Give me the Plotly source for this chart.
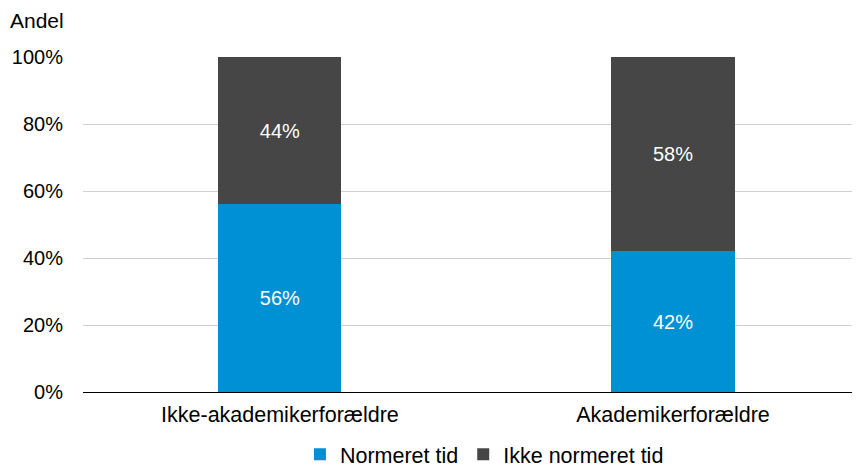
import plotly.graph_objects as go

categories = ["Ikke-akademikerforældre", "Akademikerforældre"]
normeret = [56, 42]
ikke_normeret = [44, 58]
tick_vals = [0, 20, 40, 60, 80, 100]
tick_text = ["0%", "20%", "40%", "60%", "80%", "100%"]

font = "Liberation Sans, Arial, sans-serif"
fs = 20
fs_big = 21.5
xpos = list(range(len(categories)))

fig = go.Figure()
fig.add_trace(go.Bar(
    x=xpos, y=normeret, name="Normeret tid", marker_color="#0091D5",
    marker_line_width=0, width=0.313,
    text=[f"{v}%" for v in normeret], textposition="inside", insidetextanchor="middle",
    textfont=dict(color="white", size=fs, family=font),
))
fig.add_trace(go.Bar(
    x=xpos, y=ikke_normeret, name="Ikke normeret tid", marker_color="#464646",
    marker_line_width=0, width=0.313,
    text=[f"{v}%" for v in ikke_normeret], textposition="inside", insidetextanchor="middle",
    textfont=dict(color="white", size=fs, family=font),
))

fig.update_layout(
    barmode="stack",
    width=852, height=461,
    margin=dict(l=75, r=5, t=49, b=77, autoexpand=False),
    paper_bgcolor="white", plot_bgcolor="white",
    font=dict(family=font, size=fs, color="black"),
    showlegend=True,
    legend=dict(orientation="h", x=0.52, xanchor="center", y=-0.186, yanchor="middle",
                font=dict(size=fs_big, family=font), itemwidth=30, traceorder="normal",
                tracegroupgap=0),
    xaxis=dict(range=[-0.501, 1.463], tickvals=xpos, ticktext=categories,
               showline=True, linecolor="black", linewidth=1, showgrid=False,
               ticks="", tickfont=dict(size=fs_big), automargin=False, ticklabelstandoff=3),
    yaxis=dict(range=[0, 100], tickvals=tick_vals, ticktext=tick_text,
               showgrid=True, gridcolor="#D0D0D0", gridwidth=1, zeroline=False,
               ticks="", tickfont=dict(size=fs), ticklabelstandoff=19, automargin=False),
    uniformtext=dict(mode="show", minsize=10),
    annotations=[dict(text="Andel", xref="paper", yref="paper", x=-0.097, y=1.0,
                      xanchor="left", yanchor="middle", yshift=37, showarrow=False,
                      font=dict(size=21, family=font))],
)
fig.write_html("out.html")
